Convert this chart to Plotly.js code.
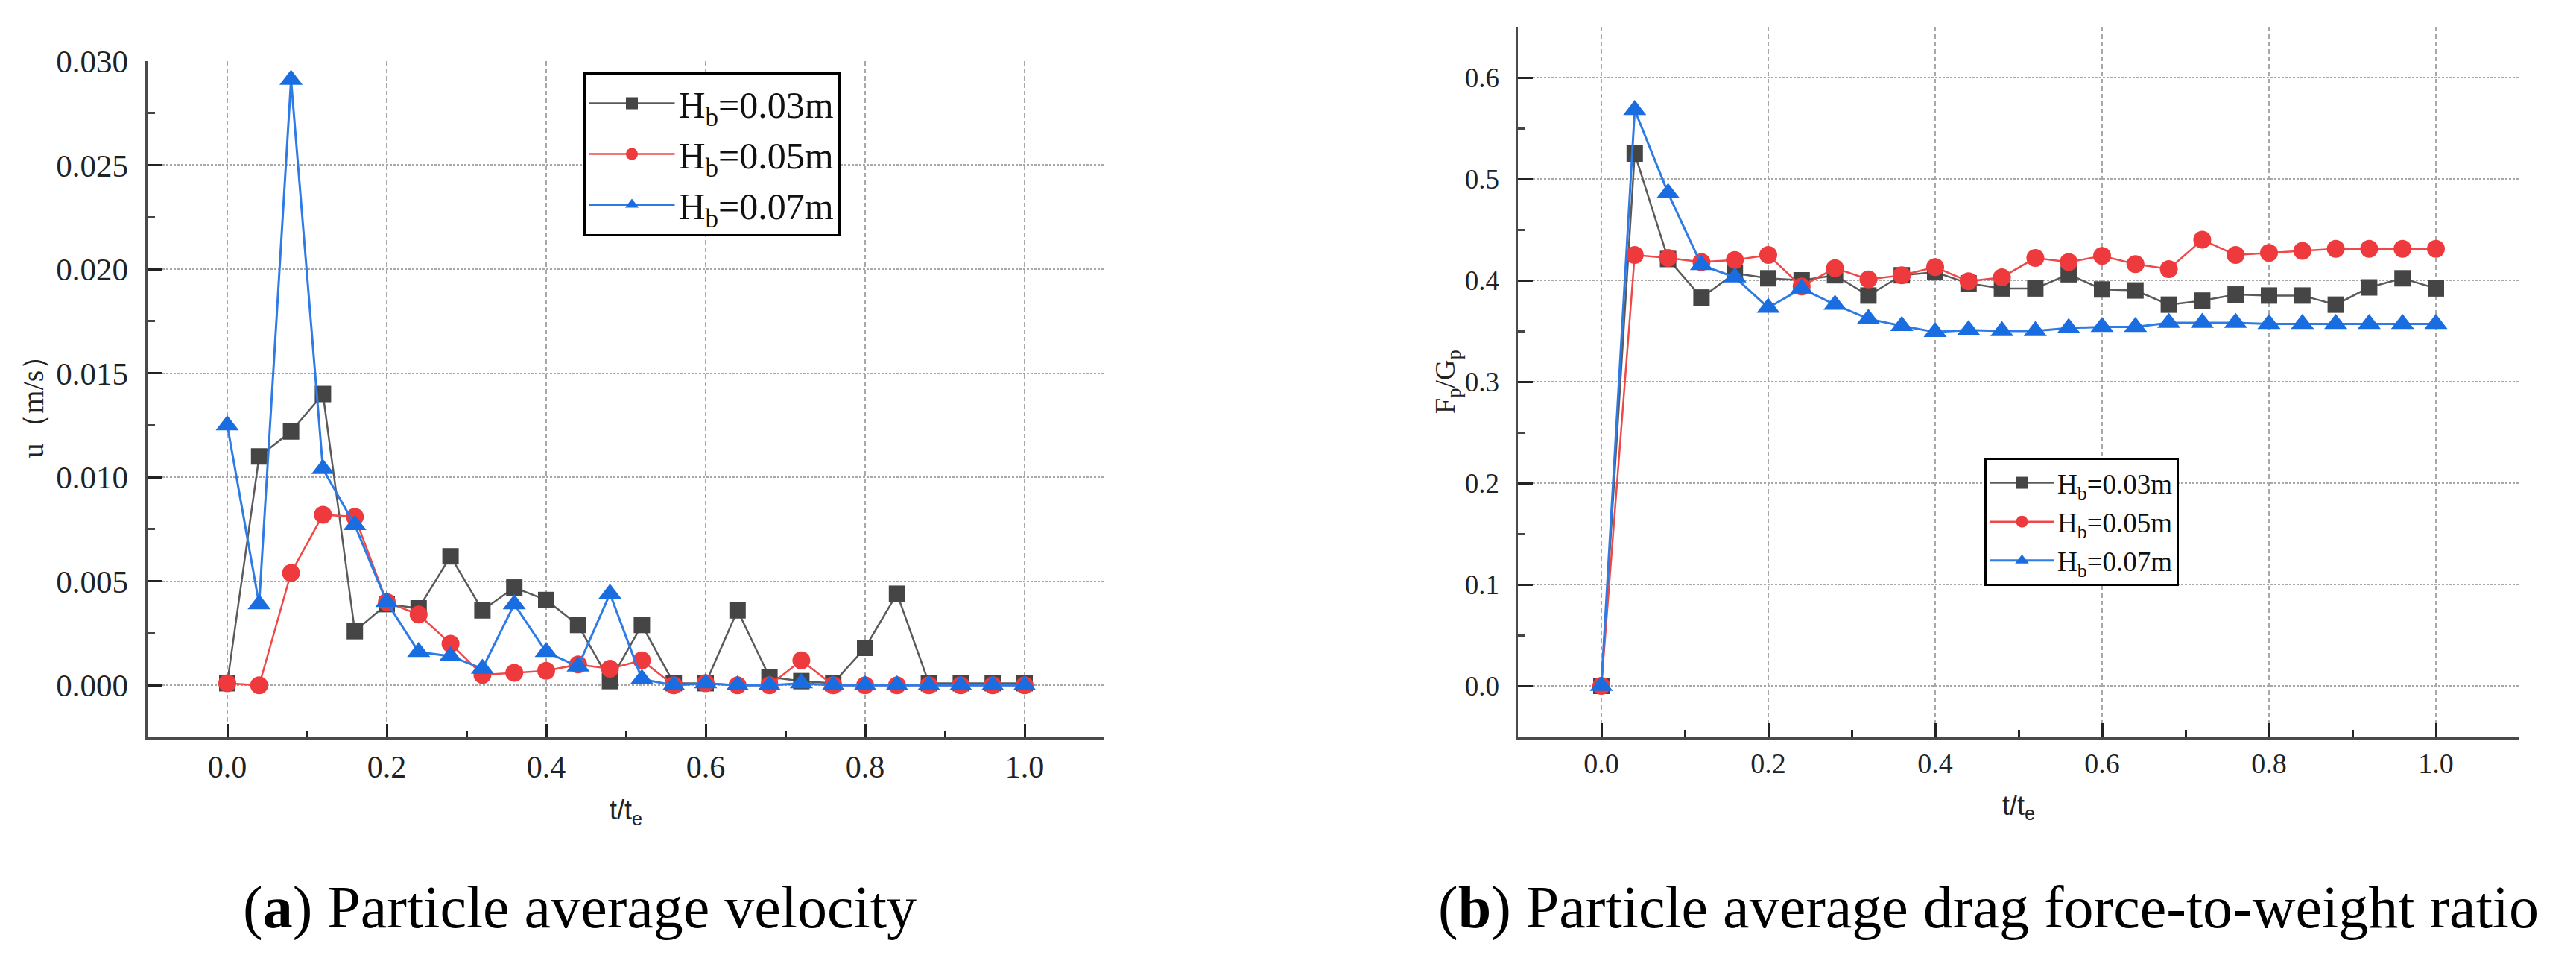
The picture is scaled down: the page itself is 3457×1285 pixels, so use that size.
<!DOCTYPE html>
<html>
<head>
<meta charset="utf-8">
<script src="https://cdn.plot.ly/plotly-3.0.1.min.js"></script>
<style>
html,body{margin:0;padding:0;background:#fff;}
</style>
</head>
<body>
<div id="chart" style="width:3457px;height:1285px;"></div>
<script>
// ---------------- data ----------------
const t = [0.00,0.04,0.08,0.12,0.16,0.20,0.24,0.28,0.32,0.36,0.40,0.44,0.48,0.52,0.56,0.60,0.64,0.68,0.72,0.76,0.80,0.84,0.88,0.92,0.96,1.00];
const seriesNames = ['H<sub>b</sub>=0.03m','H<sub>b</sub>=0.05m','H<sub>b</sub>=0.07m'];

// (a) particle average velocity u (m/s)
const u003 = [0.0001,0.0110,0.0122,0.0140,0.0026,0.0039,0.0037,0.0062,0.0036,0.0047,0.0041,0.0029,0.0002,0.0029,0.0001,0.0001,0.0036,0.0004,0.0002,0.0001,0.0018,0.0044,0.0001,0.0001,0.0001,0.0001];
const u005 = [0.0001,0.0000,0.0054,0.0082,0.0081,0.0040,0.0034,0.0020,0.0005,0.0006,0.0007,0.0010,0.0008,0.0012,0.0000,0.0001,0.0000,0.0000,0.0012,0.0000,0.0000,0.0000,0.0000,0.0000,0.0000,0.0000];
const u007 = [0.0125,0.0039,0.0291,0.0104,0.0077,0.0040,0.0016,0.0014,0.0008,0.0039,0.0016,0.0009,0.0044,0.0003,0.0000,0.0001,0.0000,0.0000,0.0001,0.0000,0.0000,0.0000,0.0000,0.0000,0.0000,0.0000];

// (b) particle average drag force-to-weight ratio Fp/Gp
const r003 = [0,0.525,0.421,0.383,0.407,0.402,0.400,0.405,0.385,0.405,0.408,0.397,0.392,0.392,0.406,0.391,0.390,0.376,0.380,0.386,0.385,0.385,0.376,0.393,0.402,0.392];
const r005 = [0,0.425,0.422,0.418,0.420,0.425,0.394,0.412,0.401,0.405,0.413,0.399,0.403,0.422,0.418,0.424,0.416,0.411,0.440,0.425,0.427,0.429,0.431,0.431,0.431,0.431];
const r007 = [0,0.568,0.486,0.415,0.403,0.373,0.392,0.376,0.362,0.355,0.349,0.351,0.350,0.350,0.353,0.354,0.354,0.358,0.358,0.358,0.357,0.357,0.357,0.357,0.357,0.357];

const xTickLabelsFmt = '.1f';
const xTitle = 't/t<sub>e</sub>';
const yTitleA = 'u（m/s）';
const yTitleB = 'F<sub>p</sub>/G<sub>p</sub>';
const captionA = '(<b>a</b>) Particle average velocity';
const captionB = '(<b>b</b>) Particle average drag force-to-weight ratio';

// ---------------- rendering ----------------
const W = 3457, H = 1285;
const SERIF = '"Liberation Serif", "Times New Roman", Times, serif';
const SANS = '"Liberation Sans", Arial, sans-serif';

const styles = [
  {line:'#5a5a5a', marker:'#454545', symbol:'square', size:22, lw:2.5},
  {line:'#ee4848', marker:'#ee3a3c', symbol:'circle', size:24, lw:2.5},
  {line:'#2f7be6', marker:'#1a6de0', symbol:'triangle-up', size:27, lw:3}
];

function mk(y, i, xa, ya, lg) {
  const s = styles[i];
  return {
    x: t, y: y, type: 'scatter', mode: 'lines+markers',
    name: seriesNames[i], xaxis: xa, yaxis: ya, legend: lg, legendgroup: lg + i,
    line: {color: s.line, width: s.lw},
    marker: {color: s.marker, symbol: s.symbol, size: s.size, line: {width: 0}}
  };
}

const traces = [
  mk(u003, 0, 'x', 'y', 'legend'),
  mk(u005, 1, 'x', 'y', 'legend'),
  mk(u007, 2, 'x', 'y', 'legend'),
  mk(r003, 0, 'x2', 'y2', 'legend2'),
  mk(r005, 1, 'x2', 'y2', 'legend2'),
  mk(r007, 2, 'x2', 'y2', 'legend2')
];

function xax(d0, d1, fs) {
  return {
    domain: [d0 / W, d1 / W], range: [-0.1, 1.1], tick0: 0, dtick: 0.2, tickformat: xTickLabelsFmt,
    ticks: 'inside', ticklen: 18, tickwidth: 3, tickcolor: '#222',
    showline: true, linecolor: '#4a4a4a', linewidth: 3.5, zeroline: false,
    showgrid: true, gridcolor: '#a8a8a8', gridwidth: 2.2, griddash: '6px,4px',
    minor: {dtick: 0.1, tick0: 0, ticks: 'inside', ticklen: 9, tickwidth: 3, tickcolor: '#222', showgrid: false},
    tickfont: {family: SERIF, size: fs, color: '#222'},
    title: {text: xTitle, font: {family: SANS, size: 36, color: '#222'}, standoff: 24},
    fixedrange: true, automargin: false
  };
}
function yax(top, bottom, range, dtick, minor, fmt, fs, title, tfs, standoff) {
  return {
    domain: [1 - bottom / H, 1 - top / H], range: range, tick0: 0, dtick: dtick, tickformat: fmt,
    ticks: 'inside', ticklen: 20, tickwidth: 3, tickcolor: '#222',
    showline: true, linecolor: '#4a4a4a', linewidth: 3.5, zeroline: false,
    showgrid: true, gridcolor: '#a8a8a8', gridwidth: 2.2, griddash: '2.5px,2.5px',
    minor: {dtick: minor, tick0: 0, ticks: 'inside', ticklen: 10, tickwidth: 3, tickcolor: '#444', showgrid: false},
    tickfont: {family: SERIF, size: fs, color: '#222'},
    ticklabelstandoff: 14,
    title: {text: title, font: {family: SERIF, size: tfs, color: '#222'}, standoff: standoff},
    fixedrange: true, automargin: false
  };
}

const layout = {
  width: W, height: H,
  margin: {l: 0, r: 0, t: 0, b: 0, pad: 0},
  paper_bgcolor: '#fff', plot_bgcolor: '#fff',
  showlegend: true,
  font: {family: SERIF},
  xaxis: xax(198, 1482, 42),
  yaxis: yax(82, 989, [-0.0025, 0.030], 0.005, 0.0025, '.3f', 43, yTitleA, 40, 5),
  xaxis2: Object.assign(xax(2037, 3381, 38), {anchor: 'y2'}),
  yaxis2: Object.assign(yax(36, 988, [-0.05, 0.65], 0.1, 0.05, '.1f', 37, yTitleB, 38, 2), {anchor: 'x2'}),
  legend: {
    x: 782 / W, y: 1 - 96 / H, xanchor: 'left', yanchor: 'top',
    bgcolor: '#fff', bordercolor: '#000', borderwidth: 3.5,
    font: {family: SERIF, size: 50, color: '#111'},
    traceorder: 'grouped', tracegroupgap: 0, itemsizing: 'trace', itemwidth: 115
  },
  legend2: {
    x: 2663 / W, y: 1 - 614 / H, xanchor: 'left', yanchor: 'top',
    bgcolor: '#fff', bordercolor: '#000', borderwidth: 3,
    font: {family: SERIF, size: 37, color: '#111'},
    traceorder: 'grouped', tracegroupgap: 1, itemsizing: 'trace', itemwidth: 85
  },
  annotations: [
    {text: captionA, xref: 'paper', yref: 'paper', x: 778 / W, y: 1 - 1217 / H, xanchor: 'center', yanchor: 'middle', showarrow: false,
     font: {family: SERIF, size: 80, color: '#000'}},
    {text: captionB, xref: 'paper', yref: 'paper', x: 2668 / W, y: 1 - 1217 / H, xanchor: 'center', yanchor: 'middle', showarrow: false,
     font: {family: SERIF, size: 80, color: '#000'}}
  ]
};

Plotly.newPlot('chart', traces, layout, {staticPlot: true, displayModeBar: false, responsive: false});
</script>
</body>
</html>
